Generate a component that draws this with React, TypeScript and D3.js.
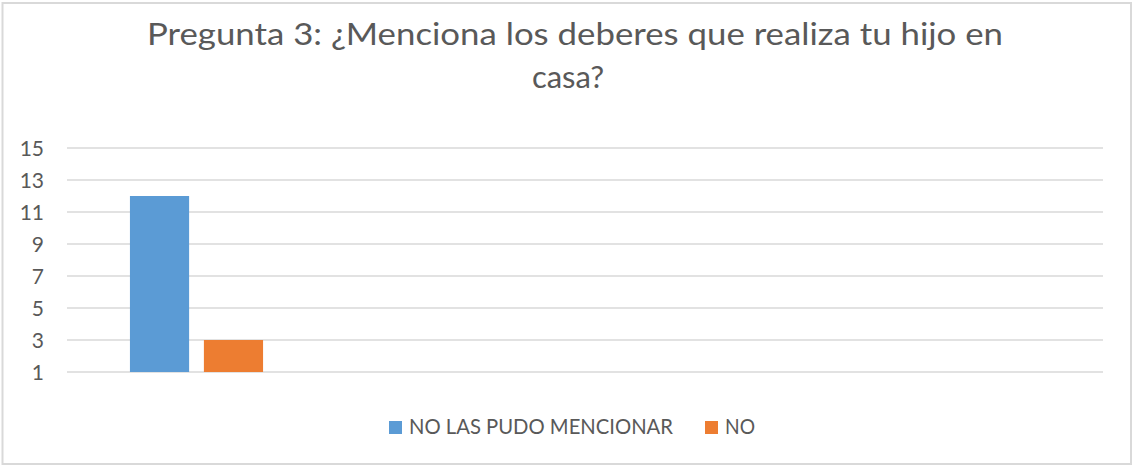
import React from "react";
import * as d3 from "d3";

const categories = ["A", "B", "C", "D"];
const seriesNames = ["NO LAS PUDO MENCIONAR", "NO"];
const seriesColors = ["#5b9bd5", "#ed7d31"];
const seriesValues: (number | null)[][] = [
  [12, null, null, null],
  [3, null, null, null],
];
const yTicks = [1, 3, 5, 7, 9, 11, 13, 15];
const titleLines = ["Pregunta 3: ¿Menciona los deberes que realiza tu hijo en", "casa?"];

const W = 1133;
const H = 466;
const FONT = "Lato, 'Open Sans', sans-serif";

export default function App() {
  const left = 67, right = 1103, top = 148, bottom = 372;
  const x = d3.scaleBand<string>().domain(categories).range([left, right]).paddingInner(0).paddingOuter(0);
  const bw = x.bandwidth();
  const off = bw * 0.243;
  const xs = d3.scaleBand<string>().domain(seriesNames).range([off, bw - off]).paddingInner(0.2);
  const y = d3.scaleLinear().domain([1, 15]).range([bottom, top]);

  return (
    <div style={{ position: "absolute", left: 0, top: 0 }}>
      <svg width={W} height={H} style={{ display: "block" }}>
        <rect x={0} y={0} width={W} height={H} fill="#fff" />
        <rect x={2.5} y={3} width={1128.5} height={461} fill="#fff" stroke="#d9d9d9" strokeWidth={2} />
        <text x={575} y={45} textAnchor="middle" fontFamily={FONT} fontSize={31} fill="#595959" textLength={856} lengthAdjust="spacingAndGlyphs">{titleLines[0]}</text>
        <text x={568} y={88} textAnchor="middle" fontFamily={FONT} fontSize={31} fill="#595959">{titleLines[1]}</text>
        {yTicks.map((t) => (
          <g key={t}>
            <line x1={left} x2={right} y1={y(t)} y2={y(t)} stroke="#d9d9d9" strokeWidth={1.5} />
            <text x={44} y={y(t)} dy="0.36em" textAnchor="end" fontFamily={FONT} fontSize={21} fill="#595959">{t}</text>
          </g>
        ))}
        {seriesNames.map((s, si) =>
          categories.map((c, ci) => {
            const v = seriesValues[si][ci];
            if (v == null) return null;
            const bx = (x(c) as number) + (xs(s) as number);
            return <rect key={s + c} x={bx} y={y(v)} width={xs.bandwidth()} height={y(1) - y(v)} fill={seriesColors[si]} />;
          })
        )}
        <g>
          <rect x={389} y={421} width={13} height={13} fill={seriesColors[0]} />
          <text x={409} y={434} fontFamily={FONT} fontSize={22} fill="#595959" textLength={264} lengthAdjust="spacingAndGlyphs">{seriesNames[0]}</text>
          <rect x={705} y={421} width={13} height={13} fill={seriesColors[1]} />
          <text x={725} y={434} fontFamily={FONT} fontSize={22} fill="#595959" textLength={30} lengthAdjust="spacingAndGlyphs">{seriesNames[1]}</text>
        </g>
      </svg>
    </div>
  );
}
